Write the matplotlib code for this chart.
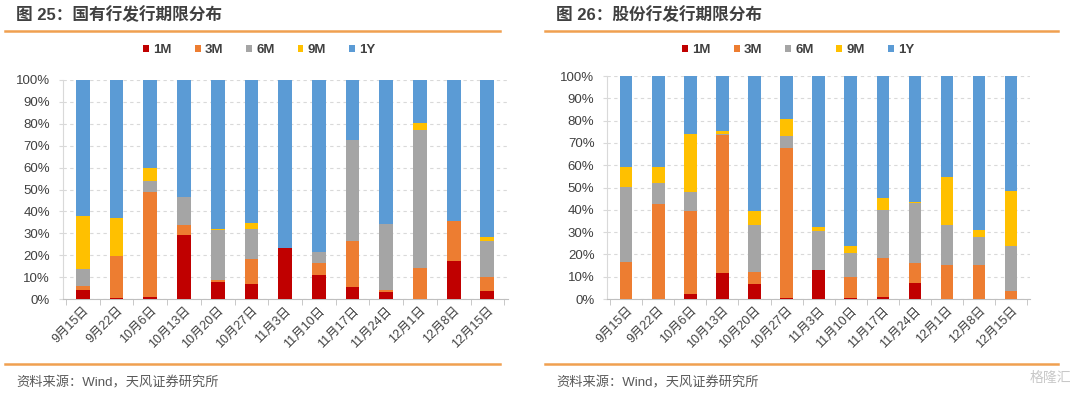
import numpy as np
import matplotlib.pyplot as plt

plt.rcParams['font.family'] = ['Liberation Sans', 'Noto Sans CJK SC', 'DejaVu Sans']

dates = ['9月15日', '9月22日', '10月6日', '10月13日', '10月20日', '10月27日', '11月3日',
         '11月10日', '11月17日', '11月24日', '12月1日', '12月8日', '12月15日']
terms = ['1M', '3M', '6M', '9M', '1Y']
colors = ['#C00000', '#ED7D31', '#A5A5A5', '#FFC000', '#5B9BD5']

# 国有行 (%)
soe_1m = [4.0, 0.4, 0.9, 29.3, 7.6, 6.8, 23.3, 10.9, 5.3, 3.0, 0.0, 17.3, 3.5]
soe_3m = [2.1, 19.4, 48.0, 4.6, 0.9, 11.7, 0.0, 5.5, 21.3, 1.0, 14.1, 18.1, 6.5]
soe_6m = [7.6, 0.0, 5.1, 12.5, 23.1, 13.7, 0.0, 4.9, 45.9, 30.2, 63.1, 0.0, 16.6]
soe_9m = [24.0, 17.1, 5.6, 0.0, 0.3, 2.6, 0.0, 0.0, 0.0, 0.0, 3.3, 0.0, 1.5]
soe_1y = [62.3, 63.1, 40.4, 53.6, 68.1, 65.2, 76.7, 78.7, 27.5, 65.8, 19.5, 64.6, 71.9]

# 股份行 (%)
jsb_1m = [0.0, 0.0, 2.4, 11.8, 6.7, 0.3, 13.0, 0.3, 0.9, 7.0, 0.0, 0.0, 0.0]
jsb_3m = [16.6, 42.7, 37.2, 61.9, 5.5, 67.6, 0.0, 9.8, 17.6, 9.0, 15.2, 15.4, 3.4]
jsb_6m = [33.8, 9.2, 8.5, 0.3, 20.9, 5.2, 17.3, 10.5, 21.5, 27.0, 18.2, 12.4, 20.5]
jsb_9m = [9.0, 7.1, 25.9, 1.2, 6.5, 7.8, 1.8, 3.3, 5.1, 0.4, 21.4, 3.2, 24.6]
jsb_1y = [40.6, 41.0, 26.0, 24.8, 60.4, 19.1, 67.9, 76.1, 54.9, 56.6, 45.2, 69.0, 51.5]

fig = plt.figure(figsize=(10.8, 3.94), dpi=100)

orange = '#F0A050'
txt = '#404040'


def draw(ax, series, width):
    x = np.arange(len(dates))
    bottom = np.zeros(len(dates))
    handles = []
    for vals, c, lab in zip(series, colors, terms):
        h = ax.bar(x, vals, width, bottom=bottom, color=c, label=lab, zorder=3)
        bottom += np.array(vals)
        handles.append(h)
    ax.set_ylim(0, 100)
    ax.set_xlim(-0.6, len(dates) - 0.4)
    ax.set_yticks(np.arange(0, 101, 10))
    ax.set_yticklabels([f'{v}%' for v in range(0, 101, 10)], fontsize=9.5, color=txt)
    ax.yaxis.grid(True, linestyle=(0, (3, 3)), color='#D9D9D9', linewidth=0.8, zorder=0)
    ax.set_xticks(x)
    ax.set_xticklabels(dates, rotation=45, ha='right', rotation_mode='anchor', fontsize=9, color=txt)
    ax.set_xticks(np.arange(-0.5, len(dates), 1), minor=True)
    ax.tick_params(axis='x', which='major', length=0, pad=4)
    ax.tick_params(axis='x', which='minor', length=4, color='#BFBFBF')
    ax.tick_params(axis='y', length=3, color='#D9D9D9', pad=6)
    for s in ['top', 'right']:
        ax.spines[s].set_visible(False)
    ax.spines['left'].set_color('#D9D9D9')
    ax.spines['bottom'].set_color('#BFBFBF')
    return handles


ax1 = fig.add_axes([0.058, 0.241, 0.412, 0.556])
h1 = draw(ax1, [soe_1m, soe_3m, soe_6m, soe_9m, soe_1y], 0.41)
ax2 = fig.add_axes([0.562, 0.241, 0.392, 0.566])
h2 = draw(ax2, [jsb_1m, jsb_3m, jsb_6m, jsb_9m, jsb_1y], 0.39)

for h, cx in [(h1, 0.24), (h2, 0.739)]:
    fig.legend(h, terms, loc='center', bbox_to_anchor=(cx, 0.873), ncol=5, frameon=False,
               handlelength=0.45, handleheight=0.45, handletextpad=0.3, columnspacing=1.75,
               prop={'size': 9.5, 'weight': 'bold'}, labelcolor=txt)

fig.text(0.015, 0.962, '图 25：国有行发行期限分布', fontsize=12, color=txt, va='center', weight='bold')
fig.text(0.515, 0.962, '图 26：股份行发行期限分布', fontsize=12, color=txt, va='center', weight='bold')
fig.text(0.015, 0.028, '资料来源：Wind，天风证券研究所', fontsize=9.5, color='#595959', va='center')
fig.text(0.515, 0.028, '资料来源：Wind，天风证券研究所', fontsize=9.5, color='#595959', va='center')
fig.text(0.992, 0.04, '格隆汇', fontsize=10, color='#C8C8C8', ha='right', va='center')

for x0, x1 in [(0.005, 0.463), (0.505, 0.98)]:
    for y in (0.921, 0.076):
        fig.add_artist(plt.Line2D([x0, x1], [y, y], color=orange, linewidth=1.8))

fig.savefig('out.png', dpi=100)
